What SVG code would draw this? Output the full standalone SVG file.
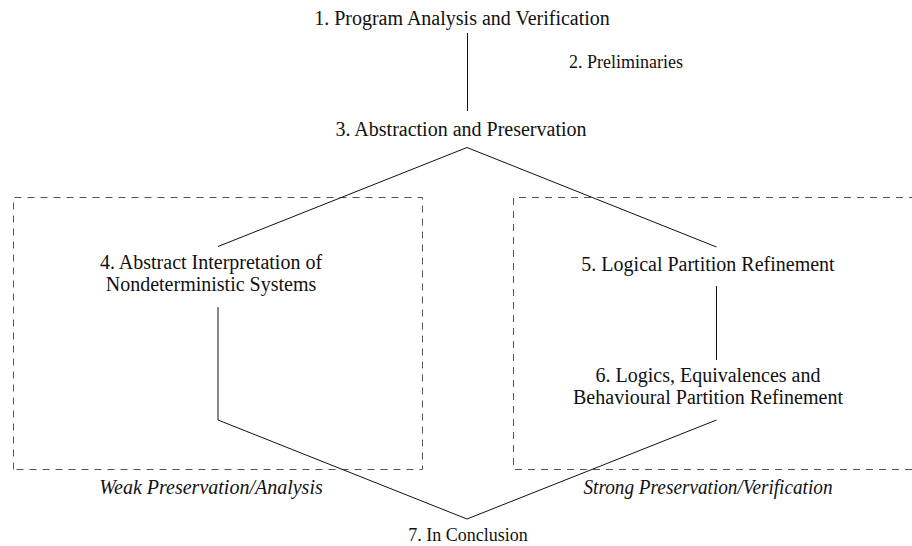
<svg xmlns="http://www.w3.org/2000/svg" width="912" height="546" viewBox="0 0 912 546">
<rect width="912" height="546" fill="#fff"/>
<g id="clusters" stroke="#555" stroke-width="1" fill="none" stroke-dasharray="7 6">
<path d="M13.5 469.5V197.5H422.5V469.5H13.5"/>
<path d="M912 469.5H513.5V197.5H912"/>
</g>
<g id="cluster-labels">
<text font-family="Liberation Serif" font-size="20" font-style="italic" fill="#111" text-anchor="middle" x="211" y="494">Weak Preservation/Analysis</text>
<text font-family="Liberation Serif" font-size="20" font-style="italic" fill="#111" text-anchor="middle" x="708" y="494" textLength="249" lengthAdjust="spacingAndGlyphs">Strong Preservation/Verification</text>
</g>
<g id="connectors" stroke="#111" stroke-width="1" fill="none">
<path d="M467.5 33V111"/>
<path d="M218 246.5L467 147.5L716.5 247"/>
<path d="M716.5 286V360"/>
<path d="M218 307V420L467 519L716.5 420"/>
</g>
<g id="n1"><text font-family="Liberation Serif" font-size="20" fill="#111" text-anchor="middle" x="462" y="25">1. Program Analysis and Verification</text></g>
<g id="n2"><text font-family="Liberation Serif" font-size="18" fill="#111" text-anchor="middle" x="626" y="68">2. Preliminaries</text></g>
<g id="n3"><text font-family="Liberation Serif" font-size="20" fill="#111" text-anchor="middle" x="461" y="136">3. Abstraction and Preservation</text></g>
<g id="n4"><text font-family="Liberation Serif" font-size="20" fill="#111" text-anchor="middle" x="211" y="269">4. Abstract Interpretation of</text><text font-family="Liberation Serif" font-size="20" fill="#111" text-anchor="middle" x="211" y="291">Nondeterministic Systems</text></g>
<g id="n5"><text font-family="Liberation Serif" font-size="20" fill="#111" text-anchor="middle" x="708" y="271">5. Logical Partition Refinement</text></g>
<g id="n6"><text font-family="Liberation Serif" font-size="20" fill="#111" text-anchor="middle" x="708" y="382">6. Logics, Equivalences and</text><text font-family="Liberation Serif" font-size="20" fill="#111" text-anchor="middle" x="708" y="404">Behavioural Partition Refinement</text></g>
<g id="n7"><text font-family="Liberation Serif" font-size="18" fill="#111" text-anchor="middle" x="468" y="541">7. In Conclusion</text></g>
</svg>
